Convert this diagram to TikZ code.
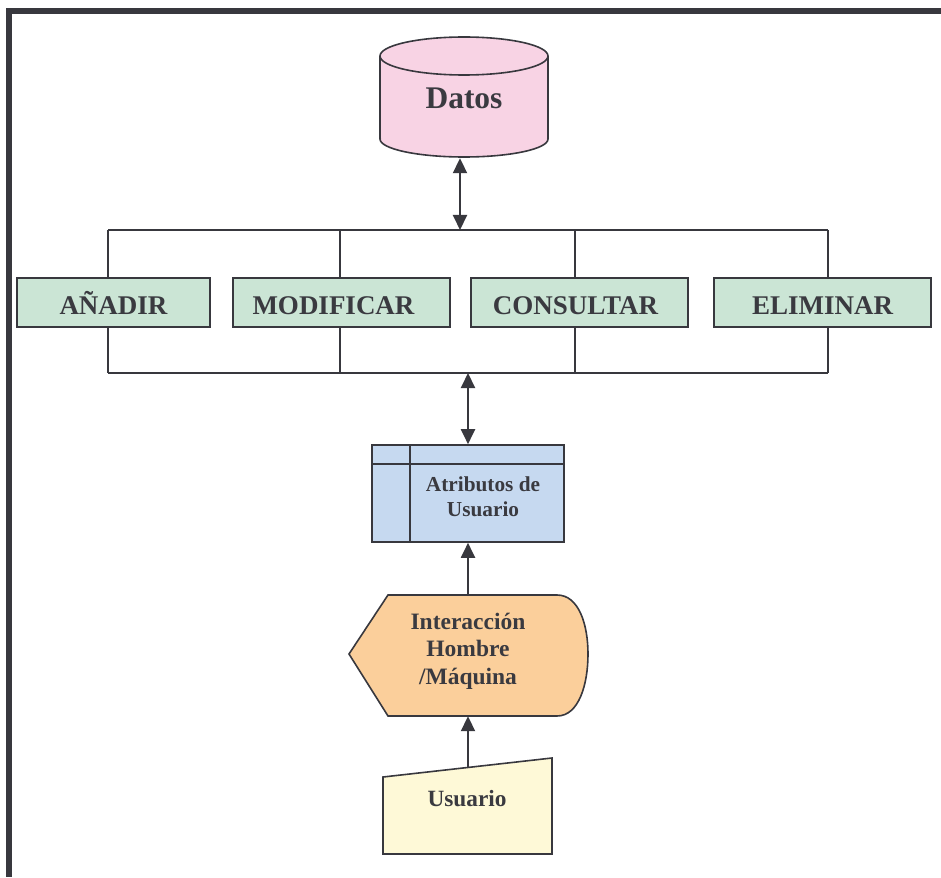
\documentclass[tikz,border=0pt]{standalone}
\usepackage{fontspec}
\setmainfont{Liberation Serif}
\usetikzlibrary{arrows.meta,calc}
\definecolor{ink}{HTML}{38383E}
\definecolor{txt}{HTML}{3A3A40}
\definecolor{pinkfill}{HTML}{F8D3E4}
\definecolor{greenfill}{HTML}{CBE5D5}
\definecolor{bluefill}{HTML}{C6D9F0}
\definecolor{orangefill}{HTML}{FBCF9B}
\definecolor{yellowfill}{HTML}{FEF9D7}
\begin{document}
\begin{tikzpicture}[x=1pt,y=-1pt,
  shapeline/.style={draw=ink, line width=1.6pt},
  opbox/.style={shapeline, fill=greenfill, minimum height=49pt, inner sep=0pt,
    text height=23pt, text depth=0pt,
    font=\fontsize{27}{30}\selectfont\bfseries, text=txt},
  bus/.style={draw=ink, line width=1.4pt},
  twoway/.style={draw=ink, line width=2pt, {Triangle[length=15pt,width=14pt]}-{Triangle[length=15pt,width=14pt]}},
  oneway/.style={draw=ink, line width=2pt, -{Triangle[length=15pt,width=14pt]}},
  label/.style={text=txt, align=center, inner sep=0pt}]
\useasboundingbox (0,0) rectangle (941,877);

% outer frame (top and left edges)
\fill[ink] (6,8) rectangle (941,14);
\fill[ink] (6,8) rectangle (12,877);

% data store cylinder
\fill[pinkfill] (380,56) rectangle (548,139);
\fill[pinkfill] (464,139) ellipse [x radius=84, y radius=18];
\draw[shapeline, fill=pinkfill] (464,56) ellipse [x radius=84, y radius=19];
\draw[shapeline] (380,56) -- (380,139);
\draw[shapeline] (548,56) -- (548,139);
\begin{scope}
  \clip (370,139) rectangle (560,172);
  \draw[shapeline] (464,139) ellipse [x radius=84, y radius=18];
\end{scope}
\node[label, minimum width=168pt, minimum height=120pt,
  font=\fontsize{31.5}{36}\selectfont\bfseries] (datos) at (464,98) {Datos};

% operation boxes
\node[opbox, minimum width=193pt] (anadir) at (113.5,302.5) {AÑADIR};
\node[opbox, minimum width=217pt] (modif) at (341.5,302.5) {\hspace*{-16pt}MODIFICAR};
\node[opbox, minimum width=217pt] (consul) at (579.5,302.5) {\hspace*{-8pt}CONSULTAR};
\node[opbox, minimum width=217pt] (elim) at (822.5,302.5) {ELIMINAR};

% buses above and below the operations
\coordinate (bTL) at (108,230);
\coordinate (bTR) at (828,230);
\coordinate (bBL) at (108,373);
\coordinate (bBR) at (828,373);
\draw[bus] (bTL) -- (bTR);
\draw[bus] (bBL) -- (bBR);
\draw[bus] (anadir.north -| bTL) -- (bTL);
\draw[bus] (anadir.south -| bBL) -- (bBL);
\draw[bus] ([xshift=-1.5pt]modif.north) -- ([xshift=-1.5pt]modif.north |- bTL);
\draw[bus] ([xshift=-1.5pt]modif.south) -- ([xshift=-1.5pt]modif.south |- bBL);
\draw[bus] ([xshift=-4.5pt]consul.north) -- ([xshift=-4.5pt]consul.north |- bTL);
\draw[bus] ([xshift=-4.5pt]consul.south) -- ([xshift=-4.5pt]consul.south |- bBL);
\draw[bus] (elim.north -| bTR) -- (bTR);
\draw[bus] (elim.south -| bBR) -- (bBR);

% internal storage: user attributes
\node[shapeline, fill=bluefill, minimum width=192pt, minimum height=97pt,
  inner sep=0pt] (attr) at (468,493.5) {};
\draw[shapeline] (attr.west |- 0,464) -- (attr.east |- 0,464);
\draw[shapeline] (attr.north -| 410,0) -- (attr.south -| 410,0);
\node[label, font=\fontsize{21.3}{25}\selectfont\bfseries] (attrtxt) at (483,497)
  {Atributos de\\Usuario};

% display shape: man/machine interaction
\filldraw[shapeline, fill=orangefill] (349,654) -- (388,595) -- (557,595)
  .. controls (579,595) and (588,625) .. (588,654)
  .. controls (588,684) and (579,716) .. (557,716) -- (388,716) -- cycle;
\node[minimum width=239pt, minimum height=121pt, inner sep=0pt] (inter) at (468,655.5) {};
\node[label, font=\fontsize{23.5}{27.5}\selectfont\bfseries] (intertxt) at (468,651)
  {Interacción\\Hombre\\/Máquina};

% manual input: user
\filldraw[shapeline, fill=yellowfill] (383,777) -- (552,758) -- (552,854) -- (383,854) -- cycle;
\node[label, font=\fontsize{23.3}{27}\selectfont\bfseries] (usr) at (467,799) {Usuario};
\coordinate (usrtop) at (468,767);

% connectors
\coordinate (dbus) at (460,230);
\coordinate (abus) at (468,373);
\draw[twoway] (dbus) -- (dbus |- datos.south);
\draw[twoway] (abus) -- (attr.north);
\draw[oneway] (inter.north) -- (attr.south);
\draw[oneway] (usrtop) -- (inter.south);
\end{tikzpicture}
\end{document}
